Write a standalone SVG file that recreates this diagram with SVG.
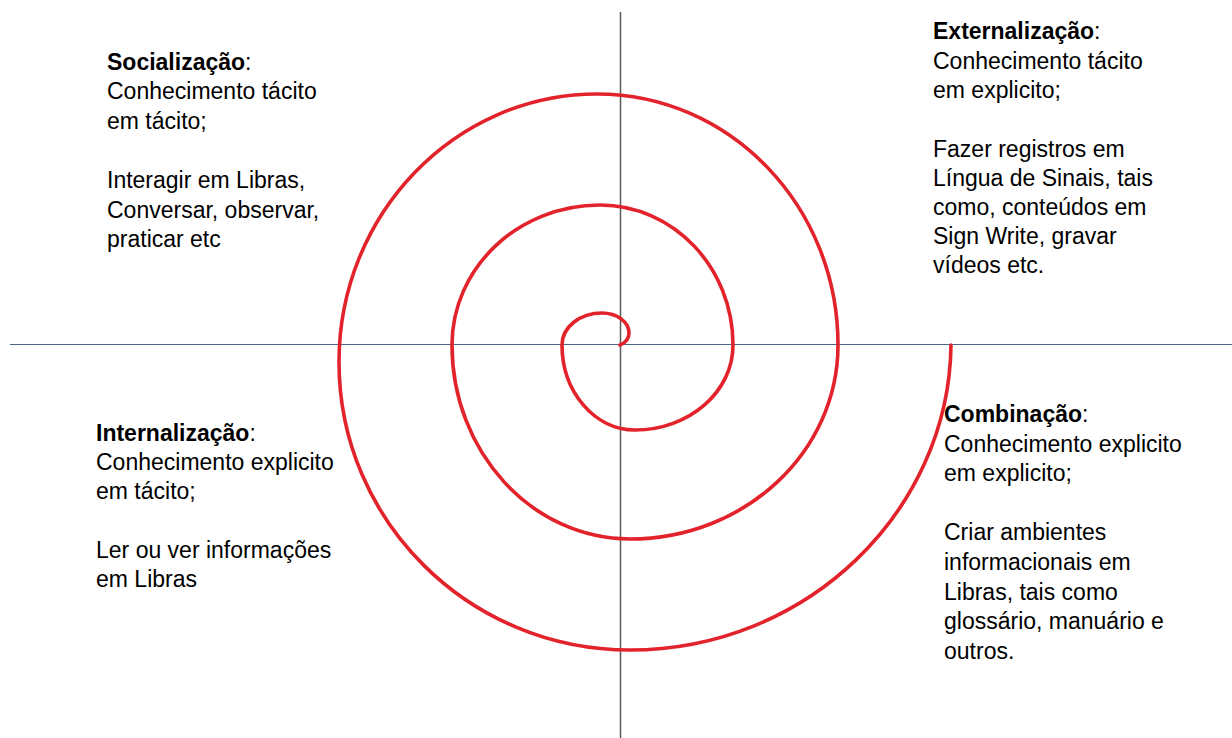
<svg xmlns="http://www.w3.org/2000/svg" width="1232" height="738" viewBox="0 0 1232 738">
  <style>
    .t { font-family: "Liberation Sans", Arial, sans-serif; font-size: 23px; fill: #000; }
    .b { font-weight: bold; }
    .spiral { fill: none; stroke: #E3232B; stroke-width: 3.6; stroke-linecap: round; stroke-linejoin: round; }
  </style>
  <rect width="1232" height="738" fill="#fff"/>
  <g id="axes">
    <line x1="10" y1="344.5" x2="1232" y2="344.5" stroke="#4A6788" stroke-width="1.2"/>
    <line x1="620.5" y1="12" x2="620.5" y2="738" stroke="#595959" stroke-width="1.5"/>
  </g>
  <g id="spiral">
    <path class="spiral" d="M620,345 C625,343 629,339 629,333 C629,322 617,313 602,313 C580,313 562,327 562,345 C562,392 595,430 635,430 C689,430 733,392 733,345 C733,268 674,205 600,205 C518,205 452,268 452,345 C452,452 532,539 630,539 C745,539 838,452 838,345 C838,206 730,94 597,94 C455,94 339,214 339,362 C339,521 469,650 630,650 C806,650 949,512 951,345"/>
  </g>
  <g id="socializacao">
    <text class="t" x="107" y="69.5"><tspan class="b">Socialização</tspan>:</text>
    <text class="t" x="107" y="99">Conhecimento tácito</text>
    <text class="t" x="107" y="128.5">em tácito;</text>
    <text class="t" x="107" y="188">Interagir em Libras,</text>
    <text class="t" x="107" y="217.5">Conversar, observar,</text>
    <text class="t" x="107" y="247">praticar etc</text>
  </g>
  <g id="externalizacao">
    <text class="t" x="933" y="39.3"><tspan class="b">Externalização</tspan>:</text>
    <text class="t" x="933" y="68.5">Conhecimento tácito</text>
    <text class="t" x="933" y="97.7">em explicito;</text>
    <text class="t" x="933" y="156.6">Fazer registros em</text>
    <text class="t" x="933" y="185.8">Língua de Sinais, tais</text>
    <text class="t" x="933" y="215">como, conteúdos em</text>
    <text class="t" x="933" y="244">Sign Write, gravar</text>
    <text class="t" x="933" y="273">vídeos etc.</text>
  </g>
  <g id="internalizacao">
    <text class="t" x="96" y="441"><tspan class="b">Internalização</tspan>:</text>
    <text class="t" x="96" y="470">Conhecimento explicito</text>
    <text class="t" x="96" y="499">em tácito;</text>
    <text class="t" x="96" y="557.5">Ler ou ver informações</text>
    <text class="t" x="96" y="586.7">em Libras</text>
  </g>
  <g id="combinacao">
    <text class="t" x="944" y="421.7"><tspan class="b">Combinação</tspan>:</text>
    <text class="t" x="944" y="451.5">Conhecimento explicito</text>
    <text class="t" x="944" y="481">em explicito;</text>
    <text class="t" x="944" y="540">Criar ambientes</text>
    <text class="t" x="944" y="570">informacionais em</text>
    <text class="t" x="944" y="599.5">Libras, tais como</text>
    <text class="t" x="944" y="629">glossário, manuário e</text>
    <text class="t" x="944" y="658.5">outros.</text>
  </g>
</svg>
